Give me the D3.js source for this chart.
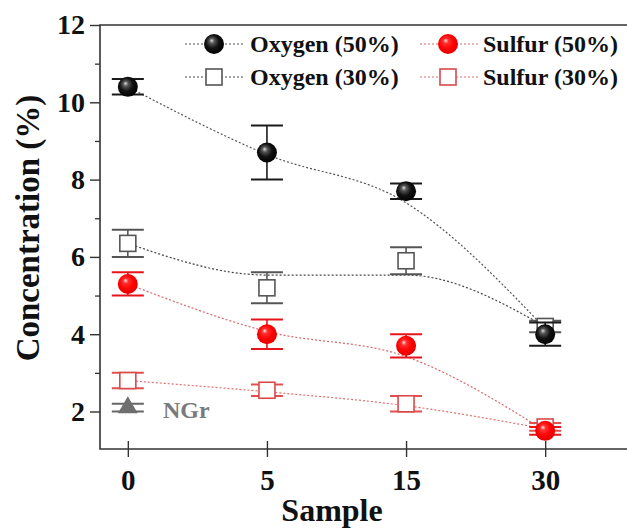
<!DOCTYPE html>
<html>
<head>
<meta charset="utf-8">
<script src="https://cdn.jsdelivr.net/npm/d3@7"></script>
<style>
	body { margin: 0; background: #fff; }
	svg { display: block; font-family: "Liberation Serif", "Times New Roman", serif; font-weight: bold; }
</style>
</head>
<body>
<script>
'use strict';

// values
const samples = ["0", "5", "15", "30"];
const oxygen50 = [10.4, 8.7, 7.7, 4.0];
const oxygen50Err = [0.2, 0.7, 0.2, 0.3];
const oxygen30 = [6.35, 5.2, 5.9, 4.2];
const oxygen30Err = [0.35, 0.4, 0.35, 0.15];
const sulfur50 = [5.3, 4.0, 3.7, 1.5];
const sulfur50Err = [0.3, 0.38, 0.3, 0.1];
const sulfur30 = [2.8, 2.55, 2.2, 1.6];
const sulfur30Err = [0.2, 0.15, 0.2, 0.1];
// dotted trend lines (fitted, not through the points)
const oxygen50Fit = [10.4, 8.65, 7.4, 4.15];
const oxygen30Fit = [6.35, 5.53, 5.53, 4.2];
const sulfur50Fit = [5.3, 4.07, 3.42, 1.5];
const sulfur30Fit = [2.8, 2.51, 2.15, 1.55];
const ngr = { sample: "0", value: 2.1, err: 0.1 };
const yTicks = [2, 4, 6, 8, 10, 12];
const yMinor = [3, 5, 7, 9, 11];

const params = { left: 100, top: 25, bottom: 449, right: 640, width: 627, height: 528 };

const series = [
	{ name: "Oxygen (50%)", vals: oxygen50, err: oxygen50Err, fit: oxygen50Fit, kind: "ball", grad: "gBlack", bar: "#1a1a1a", line: "#555" },
	{ name: "Oxygen (30%)", vals: oxygen30, err: oxygen30Err, fit: oxygen30Fit, kind: "square", stroke: "#555", bar: "#555", line: "#444" },
	{ name: "Sulfur (50%)", vals: sulfur50, err: sulfur50Err, fit: sulfur50Fit, kind: "ball", grad: "gRed", bar: "#e8141c", line: "#d9686c" },
	{ name: "Sulfur (30%)", vals: sulfur30, err: sulfur30Err, fit: sulfur30Fit, kind: "square", stroke: "#d94a4a", bar: "#e05050", line: "#de7070" }
];

const svg = d3.select("body").append("svg")
	.attr("width", params.width)
	.attr("height", params.height);

// sphere gradients
const defs = svg.append("defs");
const addGrad = (id, stops) => {
	const g = defs.append("radialGradient").attr("id", id)
		.attr("cx", "45%").attr("cy", "45%").attr("r", "60%")
		.attr("fx", "38%").attr("fy", "32%");
	stops.forEach(s => g.append("stop").attr("offset", s[0]).attr("stop-color", s[1]));
};
addGrad("gBlack", [["0%", "#d8d8d8"], ["22%", "#555"], ["55%", "#111"], ["100%", "#000"]]);
addGrad("gRed", [["0%", "#ffe0e0"], ["22%", "#ff3030"], ["60%", "#ff0000"], ["100%", "#e00000"]]);

const x = d3.scalePoint().domain(samples).range([params.left, 573]).padding(0.2);
const y = d3.scaleLinear().domain([1.03, 12]).range([params.bottom, params.top]);

// frame
svg.append("path")
	.attr("d", `M${params.right},${params.top}H${params.left}V${params.bottom}H${params.right}`)
	.attr("fill", "none").attr("stroke", "#333").attr("stroke-width", 1.6);

// y axis
const yAxis = svg.append("g")
	.attr("transform", `translate(${params.left},0)`)
	.call(d3.axisLeft(y).tickValues(yTicks).tickSize(10).tickPadding(5).tickFormat(d3.format("d")));
yAxis.select(".domain").remove();
yAxis.selectAll("line").attr("stroke", "#333").attr("stroke-width", 1.4);
yAxis.selectAll("text").attr("font-size", 28).attr("fill", "#111")
	.attr("font-family", "Liberation Serif").attr("font-weight", "bold");

const yMinorAxis = svg.append("g")
	.attr("transform", `translate(${params.left},0)`)
	.call(d3.axisLeft(y).tickValues(yMinor).tickSize(5).tickFormat(""));
yMinorAxis.select(".domain").remove();
yMinorAxis.selectAll("line").attr("stroke", "#333").attr("stroke-width", 1.3);

// x axis
const xAxis = svg.append("g")
	.attr("transform", `translate(0,${params.bottom})`)
	.call(d3.axisBottom(x).tickSize(8).tickPadding(12));
xAxis.select(".domain").remove();
xAxis.selectAll("line").attr("y1", -8).attr("y2", 8).attr("stroke", "#333").attr("stroke-width", 1.4);
xAxis.selectAll("text").attr("font-size", 29).attr("fill", "#111")
	.attr("font-family", "Liberation Serif").attr("font-weight", "bold");

// axis titles
svg.append("text")
	.attr("x", 332).attr("y", 521)
	.attr("text-anchor", "middle").attr("font-size", 32).attr("fill", "#111")
	.text("Sample");
svg.append("text")
	.attr("transform", "translate(39,228) rotate(-90)")
	.attr("text-anchor", "middle").attr("font-size", 33).attr("fill", "#111")
	.text("Concentration (%)");

// trend lines
const line = d3.line()
	.x((d, i) => x(samples[i]))
	.y(d => y(d))
	.curve(d3.curveMonotoneX);

svg.append("g").selectAll("path")
	.data(series)
	.join("path")
	.attr("d", d => line(d.fit))
	.attr("fill", "none")
	.attr("stroke", d => d.line)
	.attr("stroke-width", 1.2)
	.attr("stroke-dasharray", "2,2");

// error bars
const cap = 16;
const drawErr = (g, cx, v, e, color) => {
	const y0 = y(v - e), y1 = y(v + e);
	g.append("line").attr("x1", cx).attr("x2", cx).attr("y1", y0).attr("y2", y1)
		.attr("stroke", color).attr("stroke-width", 1.6);
	[y0, y1].forEach(yy => g.append("line")
		.attr("x1", cx - cap).attr("x2", cx + cap).attr("y1", yy).attr("y2", yy)
		.attr("stroke", color).attr("stroke-width", 2));
};

const drawMarker = (g, s, cx, cy, r) => {
	if (s.kind === "ball") {
		g.append("circle").attr("cx", cx).attr("cy", cy).attr("r", r)
			.attr("fill", `url(#${s.grad})`);
	} else {
		g.append("rect").attr("x", cx - 8).attr("y", cy - 8).attr("width", 16).attr("height", 16)
			.attr("fill", "#fff").attr("stroke", s.stroke).attr("stroke-width", 1.6);
	}
};

// squares first, balls on top
const order = [1, 3, 2, 0];
order.forEach(k => {
	const s = series[k];
	const g = svg.append("g");
	s.vals.forEach((v, i) => {
		drawErr(g, x(samples[i]), v, s.err[i], s.bar);
		drawMarker(g, s, x(samples[i]), y(v), 10);
	});
});

// NGr reference point
const ng = svg.append("g");
drawErr(ng, x(ngr.sample), ngr.value, ngr.err, "#666");
ng.append("path")
	.attr("transform", `translate(${x(ngr.sample)},${y(ngr.value)})`)
	.attr("d", d3.symbol(d3.symbolTriangle, 170)())
	.attr("fill", "#6e6e6e");
ng.append("text")
	.attr("x", 163).attr("y", 418)
	.attr("font-size", 24).attr("fill", "#7a7a7a")
	.text("NGr");

// legend
const legendPos = [
	{ lx: 185, mx: 214, tx: 250, y: 44 },
	{ lx: 185, mx: 214, tx: 250, y: 77 },
	{ lx: 420, mx: 448, tx: 483, y: 44 },
	{ lx: 420, mx: 448, tx: 483, y: 77 }
];
series.forEach((s, k) => {
	const p = legendPos[k];
	const g = svg.append("g");
	g.append("line").attr("x1", p.lx).attr("x2", p.lx + 60).attr("y1", p.y).attr("y2", p.y)
		.attr("stroke", s.line).attr("stroke-width", 1.2).attr("stroke-dasharray", "2,2");
	drawMarker(g, s, p.mx, p.y, 10);
	g.append("text").attr("x", p.tx).attr("y", p.y + 8)
		.attr("font-size", 24).attr("fill", "#111")
		.text(s.name);
});
</script>
</body>
</html>
